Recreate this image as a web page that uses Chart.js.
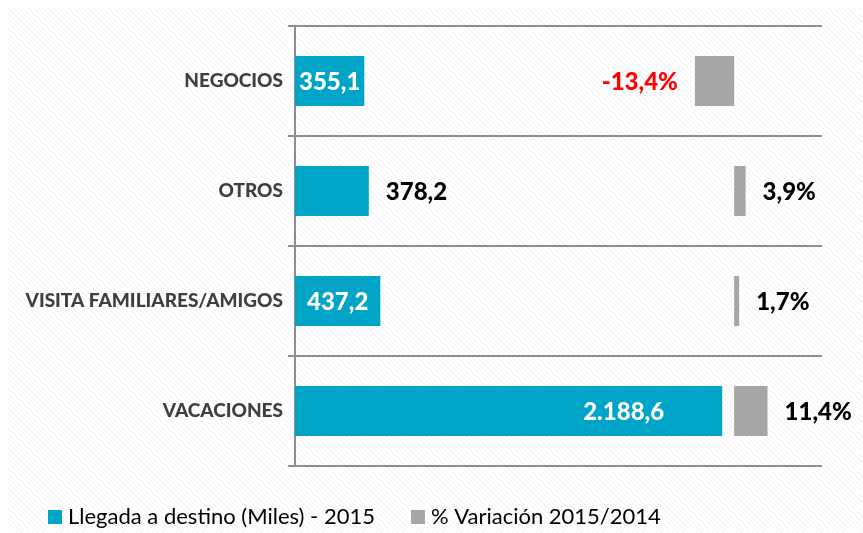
<!DOCTYPE html>
<html>
<head>
<meta charset="utf-8">
<script src="https://cdn.jsdelivr.net/npm/chart.js@4/dist/chart.umd.min.js"></script>
<style>
  html, body { margin: 0; padding: 0; background: #fff; }
  #wrap { width: 863px; height: 533px; }
</style>
</head>
<body>
<div id="wrap"><canvas id="barChart"></canvas></div>
<script>
const categories = ['NEGOCIOS', 'OTROS', 'VISITA FAMILIARES/AMIGOS', 'VACACIONES'];
const llegadas = [355.1, 378.2, 437.2, 2188.6];
const variacion = [-13.4, 3.9, 1.7, 11.4];
const seriesNames = ['Llegada a destino (Miles) - 2015', '% Variación 2015/2014'];

const BLUE = '#00a4c7';
const GREY = '#a6a6a6';
const LINE = '#8e8e8e';
const FONT = 'Lato, "Open Sans", sans-serif';

// 2188.6 -> "2.188,6"
function fmt(v) {
  const parts = Math.abs(v).toFixed(1).split('.');
  return (v < 0 ? '-' : '') + parts[0].replace(/\B(?=(\d{3})+(?!\d))/g, '.') + ',' + parts[1];
}

// faint diagonal hatch behind the chart
const hatch = {
  id: 'hatch',
  beforeDraw(chart) {
    const ctx = chart.ctx;
    const tile = document.createElement('canvas');
    tile.width = tile.height = 5;
    const t = tile.getContext('2d');
    t.strokeStyle = '#f1f1f1';
    t.lineWidth = 1;
    t.beginPath();
    t.moveTo(-1, -1); t.lineTo(6, 6);
    t.moveTo(-1, 4); t.lineTo(1, 6);
    t.moveTo(4, -1); t.lineTo(6, 1);
    t.stroke();
    ctx.save();
    ctx.fillStyle = '#fff';
    ctx.fillRect(0, 0, chart.width, chart.height);
    ctx.fillStyle = ctx.createPattern(tile, 'repeat');
    ctx.fillRect(8, 8, chart.width - 8, chart.height - 8);
    ctx.restore();
  }
};

// value labels next to / inside the bars
const valueLabels = {
  id: 'valueLabels',
  afterDatasetsDraw(chart, args, opts) {
    const ctx = chart.ctx;
    ctx.save();
    ctx.font = '900 24px ' + FONT;
    ctx.textBaseline = 'middle';
    chart.data.datasets.forEach((ds, di) => {
      chart.getDatasetMeta(di).data.forEach((bar, i) => {
        const v = ds.data[i];
        const text = fmt(v) + (di === 1 ? '%' : '');
        const left = Math.min(bar.x, bar.base);
        const right = Math.max(bar.x, bar.base);
        const place = opts.place[di][i];
        let x, color;
        if (place === 'center') {
          ctx.textAlign = 'center';
          x = (left + right) / 2;
          color = '#fff';
        } else if (place === 'insideEnd') {
          ctx.textAlign = 'right';
          x = right - opts.insideGap;
          color = '#fff';
        } else if (v < 0) {
          ctx.textAlign = 'right';
          x = left - opts.gap;
          color = '#ff0000';
        } else {
          ctx.textAlign = 'left';
          x = right + opts.gap;
          color = '#000';
        }
        ctx.fillStyle = color;
        ctx.fillText(text, x, bar.y + 1);
      });
    });
    ctx.restore();
  }
};

// legend drawn below the plot
const bottomLegend = {
  id: 'bottomLegend',
  afterDraw(chart, args, opts) {
    const ctx = chart.ctx;
    ctx.save();
    ctx.font = '22px ' + FONT;
    ctx.textBaseline = 'middle';
    ctx.textAlign = 'left';
    let x = opts.x;
    const y = opts.y;
    chart.data.datasets.forEach(ds => {
      ctx.fillStyle = ds.backgroundColor;
      ctx.fillRect(x, y - 7, 14, 14);
      ctx.fillStyle = '#000';
      ctx.fillText(ds.label, x + 20, y);
      x += 20 + ctx.measureText(ds.label).width + 36;
    });
    ctx.restore();
  }
};

new Chart(document.getElementById('barChart').getContext('2d'), {
  type: 'bar',
  data: {
    labels: categories,
    datasets: [
      {
        label: seriesNames[0],
        data: llegadas,
        xAxisID: 'x',
        backgroundColor: BLUE,
        grouped: false,
        categoryPercentage: 0.5,
        barPercentage: 0.91
      },
      {
        label: seriesNames[1],
        data: variacion,
        xAxisID: 'x2',
        backgroundColor: GREY,
        grouped: false,
        categoryPercentage: 0.5,
        barPercentage: 0.91
      }
    ]
  },
  options: {
    indexAxis: 'y',
    responsive: true,
    maintainAspectRatio: false,
    animation: false,
    layout: { padding: { top: 26, right: 41, bottom: 67, left: 0 } },
    scales: {
      x: { type: 'linear', min: 0, max: 2700, display: false },
      x2: { type: 'linear', min: -150, max: 30, display: false },
      y: {
        grid: { color: LINE, lineWidth: 2, tickLength: 7, offset: true },
        border: { color: LINE, width: 2 },
        ticks: { color: '#3f3f3f', padding: 5, font: { family: FONT, size: 19, weight: 900 } },
        afterFit(scale) { scale.width = 295; }
      }
    },
    plugins: {
      legend: { display: false },
      tooltip: { enabled: false },
      valueLabels: {
        place: [['center', 'outside', 'center', 'insideEnd'], ['outside', 'outside', 'outside', 'outside']],
        gap: 17,
        insideGap: 58
      },
      bottomLegend: { x: 48, y: 517 }
    }
  },
  plugins: [hatch, valueLabels, bottomLegend]
});
</script>
</body>
</html>
